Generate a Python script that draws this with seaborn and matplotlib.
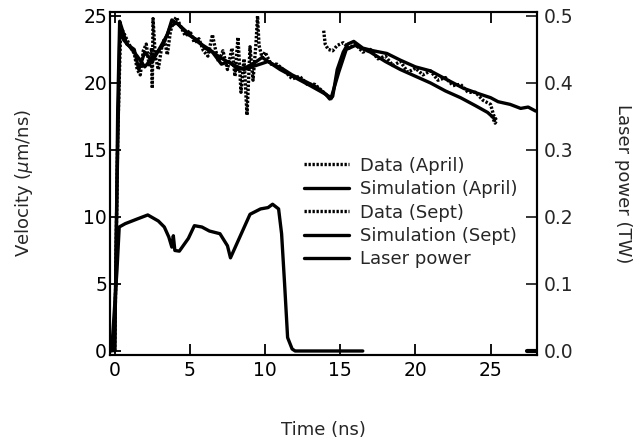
import numpy as np
import pandas as pd
import matplotlib
matplotlib.use("Agg")
import matplotlib.pyplot as plt
import seaborn as sns

# ---------------- data ----------------
sim_apr_t = [0, 0.1, 0.2, 0.33, 0.5, 0.8, 1.3, 1.6, 2.0, 2.5, 3.0, 3.5, 3.8, 4.2, 4.9, 5.5, 6.0,
             6.5, 7.1, 7.6, 8.2, 8.8, 9.3, 9.8, 10.5, 11.1, 11.8, 12.7, 13.4, 14.0, 14.3, 14.5,
             14.8, 15.2, 15.5, 15.9, 16.5, 17.2, 18.1, 19.0, 20.0, 21.0, 22.0, 23.2, 24.2, 25.0,
             25.5, 26.3, 27.0, 27.5, 28.0]
sim_apr_v = [0, 8, 18, 24.6, 24.0, 22.9, 22.5, 21.0, 22.3, 21.6, 22.6, 23.6, 24.7, 24.4, 23.6,
             23.2, 22.6, 22.3, 21.4, 21.6, 21.0, 21.2, 21.5, 21.9, 21.4, 21.1, 20.6, 20.1, 19.7,
             19.2, 18.8, 19.0, 21.0, 22.3, 22.9, 23.1, 22.6, 22.4, 22.2, 21.7, 21.2, 20.9, 20.3,
             19.6, 19.2, 18.9, 18.6, 18.4, 18.1, 18.2, 17.9]

sim_sep_t = [0, 0.15, 0.35, 0.6, 1.0, 1.5, 2.0, 2.6, 3.2, 3.7, 4.1, 4.8, 5.6, 6.3, 7.0, 7.8, 8.6,
             9.4, 10.2, 11.0, 12.0, 13.0, 13.8, 14.4, 14.9, 15.4, 16.0, 17.0, 18.0, 19.0, 20.0,
             21.0, 22.0, 23.0, 24.0, 24.8, 25.3]
sim_sep_v = [0, 12, 24.3, 23.2, 22.7, 22.0, 21.2, 22.0, 22.8, 24.2, 24.5, 23.8, 23.0, 22.5, 21.9,
             21.4, 21.0, 21.3, 21.6, 21.0, 20.4, 19.8, 19.3, 18.9, 20.8, 22.5, 22.8, 22.3, 21.6,
             21.0, 20.5, 20.0, 19.4, 18.9, 18.3, 17.8, 17.3]

data_apr_t = [0, 0.2, 0.4, 0.7, 1.0, 1.3, 1.5, 1.7, 1.9, 2.1, 2.3, 2.45, 2.5, 2.55, 2.7, 2.9,
              3.1, 3.3, 3.5, 3.7, 3.9, 4.1, 4.4, 4.7, 5.0, 5.3, 5.6, 5.9, 6.2, 6.5, 6.7, 6.9, 7.2,
              7.5, 7.8, 8.0, 8.2, 8.4, 8.6, 8.8, 9.0, 9.2, 9.4, 9.5, 9.6, 9.8, 10.0, 10.4, 10.8,
              11.3, 11.8, 12.3, 12.8, 13.3, 13.8, 14.2, 14.5]
data_apr_v = [0, 16, 24.2, 23.5, 22.8, 22.2, 21.0, 20.6, 22.4, 22.9, 21.2, 22.6, 19.6, 24.8,
              22.0, 21.0, 22.5, 23.3, 22.1, 23.8, 24.6, 24.9, 24.2, 23.5, 23.9, 23.0, 23.3, 22.4,
              22.0, 23.6, 22.5, 21.6, 22.4, 21.0, 22.6, 20.5, 23.4, 19.3, 21.8, 17.6, 22.7, 20.2,
              23.0, 25.0, 22.8, 21.9, 22.3, 21.4, 21.4, 20.9, 20.3, 20.5, 19.9, 19.9, 19.4, 19.0,
              18.8]

data_sep_t = [13.9, 14.0, 14.2, 14.5, 14.8, 15.2, 15.6, 16.0, 16.5, 17.0, 17.5, 18.0, 18.5, 19.0,
              19.5, 20.0, 20.5, 21.0, 21.5, 22.0, 22.5, 23.0, 23.5, 24.0, 24.5, 25.0, 25.2, 25.4,
              25.3, 25.1]
data_sep_v = [23.9, 22.9, 22.5, 22.4, 22.8, 23.0, 22.6, 22.9, 22.3, 22.5, 21.8, 22.0, 21.3, 21.6,
              20.8, 21.1, 20.6, 20.9, 20.2, 20.4, 19.8, 19.9, 19.3, 19.3, 18.7, 18.4, 17.6, 17.2,
              17.0, 17.5]

laser_t = [-0.2, 0.15, 0.3, 0.7, 1.5, 2.2, 2.9, 3.3, 3.6, 3.8, 3.9, 4.0, 4.3, 4.9, 5.3, 5.8, 6.3,
           7.0, 7.5, 7.7, 8.3, 9.0, 9.7, 10.2, 10.5, 10.9, 11.1, 11.3, 11.5, 11.8, 12.0, 16.5]
laser_p = [0, 0.12, 0.185, 0.19, 0.197, 0.203, 0.194, 0.185, 0.17, 0.155, 0.172, 0.15, 0.149,
           0.168, 0.187, 0.185, 0.179, 0.175, 0.157, 0.139, 0.169, 0.204, 0.212, 0.214, 0.219,
           0.212, 0.175, 0.1, 0.02, 0.003, 0.0, 0.0]
laser_tail_t = [27.4, 28.1]
laser_tail_p = [0.0, 0.0]

labels = ["Data (April)", "Simulation (April)", "Data (Sept)", "Simulation (Sept)", "Laser power"]

# ---------------- plot ----------------
sns.set_style("ticks")
plt.rcParams["font.family"] = ["DejaVu Sans"]

fig = plt.figure(figsize=(6.38, 4.41), dpi=100)
ax = fig.add_axes([0.172, 0.195, 0.670, 0.778])
ax2 = ax.twinx()

lw = 2.4
dot = (0, (0.7, 0.5))
sns.lineplot(x=data_apr_t, y=data_apr_v, ax=ax, color="black", lw=lw, linestyle=dot,
             sort=False, estimator=None, label=labels[0])
sns.lineplot(x=sim_apr_t, y=sim_apr_v, ax=ax, color="black", lw=lw,
             sort=False, estimator=None, label=labels[1])
sns.lineplot(x=data_sep_t, y=data_sep_v, ax=ax, color="black", lw=lw, linestyle=dot,
             sort=False, estimator=None, label=labels[2])
sns.lineplot(x=sim_sep_t, y=sim_sep_v, ax=ax, color="black", lw=lw,
             sort=False, estimator=None, label=labels[3])
sns.lineplot(x=laser_t, y=laser_p, ax=ax2, color="black", lw=lw,
             sort=False, estimator=None, label=labels[4])
sns.lineplot(x=laser_tail_t, y=laser_tail_p, ax=ax2, color="black", lw=3,
             sort=False, estimator=None, legend=False)

ax.set_xlim(-0.33, 28.1)
ax.set_ylim(-0.3, 25.3)
ax2.set_ylim(-0.006, 0.506)

ax.set_xticks([0, 5, 10, 15, 20, 25])
ax.set_yticks([0, 5, 10, 15, 20, 25])
ax2.set_yticks([0.0, 0.1, 0.2, 0.3, 0.4, 0.5])
ax2.set_yticklabels(["0.0", "0.1", "0.2", "0.3", "0.4", "0.5"])

ax.tick_params(axis="both", direction="in", length=8, width=1.3, labelsize=13.5,
               top=True, right=False, pad=4, colors="black")
ax.tick_params(axis="y", pad=2)
ax2.tick_params(axis="y", direction="in", length=8, width=1.3, labelsize=13.5, pad=5)

for a in (ax, ax2):
    for s in a.spines.values():
        s.set_linewidth(1.5)
        s.set_color("black")

ax.set_xlabel("Time (ns)", fontsize=13, labelpad=30)
ax.set_ylabel("Velocity ($\\mu$m/ns)", fontsize=13, labelpad=35)
ax2.set_ylabel("Laser power (TW)", fontsize=13, rotation=270, labelpad=42)

h1, l1 = ax.get_legend_handles_labels()
h2, l2 = ax2.get_legend_handles_labels()
if ax.get_legend() is not None:
    ax.get_legend().remove()
if ax2.get_legend() is not None:
    ax2.get_legend().remove()
leg = ax2.legend(h1 + h2, l1 + l2, loc="upper left", bbox_to_anchor=(0.455, 0.578),
                 frameon=False, fontsize=13, handlelength=2.5, handletextpad=0.6,
                 labelspacing=0.3, borderpad=0, borderaxespad=0)

fig.savefig("out.png", dpi=100)
